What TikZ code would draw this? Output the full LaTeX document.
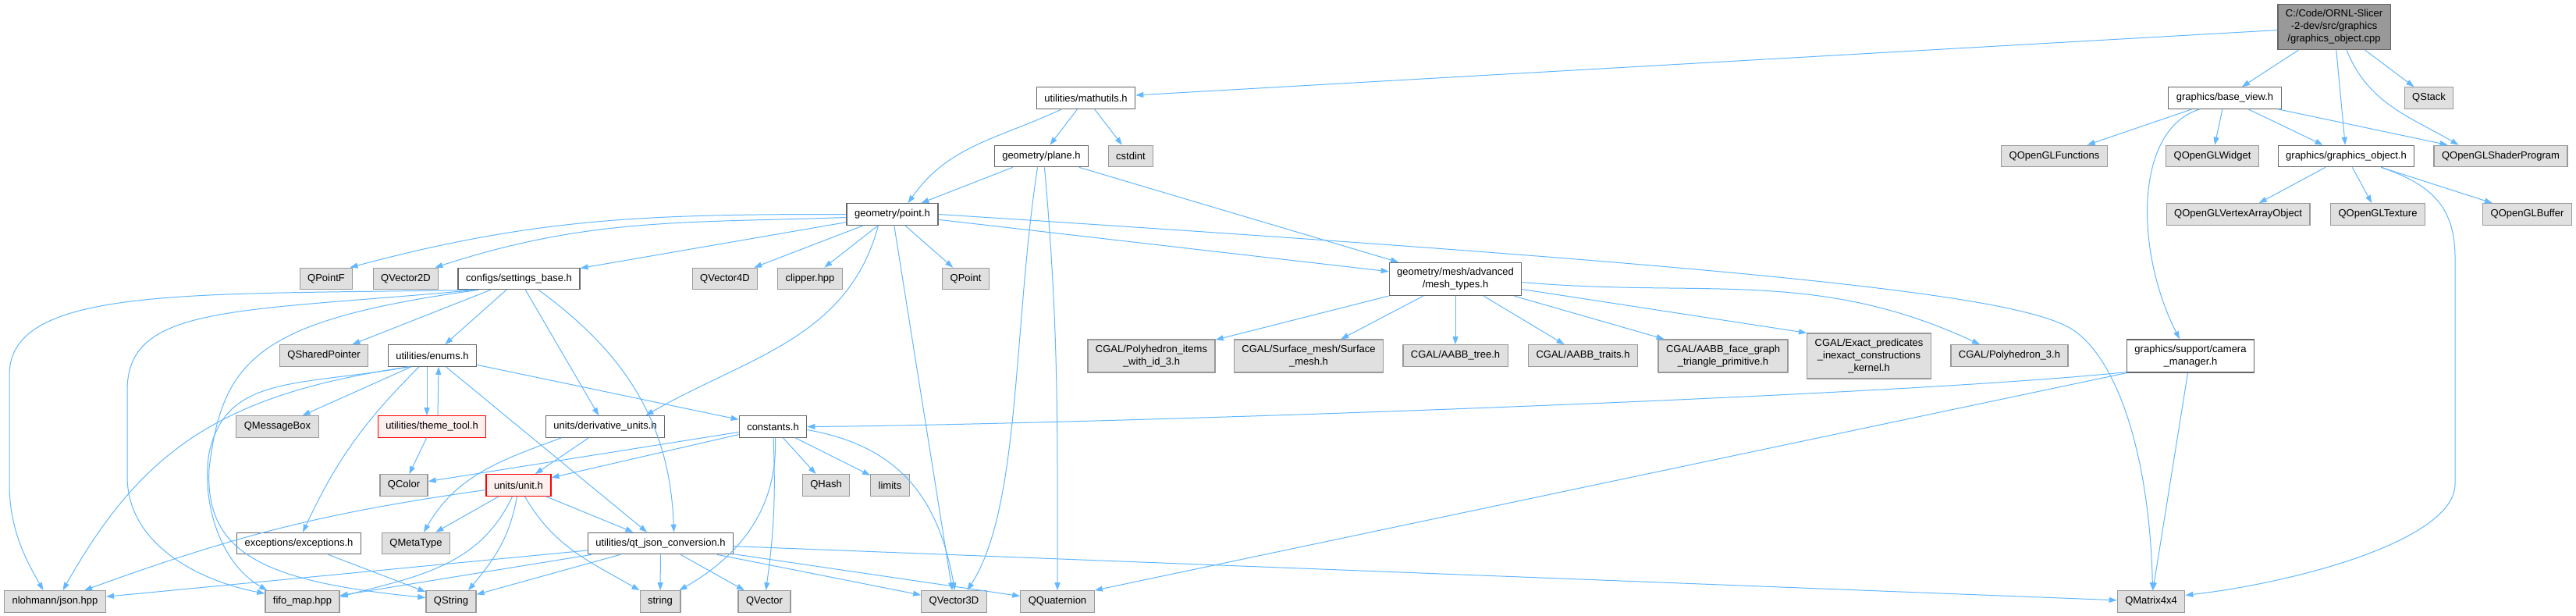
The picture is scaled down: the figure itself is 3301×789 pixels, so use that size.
\documentclass[tikz,border=0pt]{standalone}
\usepackage{fontspec}
\setmainfont{Liberation Sans}
\usetikzlibrary{arrows.meta}
\definecolor{edgeblue}{HTML}{63B8FF}
\definecolor{extfill}{HTML}{E0E0E0}
\definecolor{extstr}{HTML}{999999}
\definecolor{hdrstr}{HTML}{666666}
\definecolor{redstr}{HTML}{FF0000}
\definecolor{redfill}{HTML}{FFF0F0}
\definecolor{mainfill}{HTML}{999999}
\tikzset{
  hbox/.style   ={rectangle, draw=hdrstr, fill=white, line width=1.2pt,
                  inner xsep=10pt, inner ysep=7pt, minimum height=27.5pt,
                  align=center, font=\fontsize{13}{16}\selectfont},
  extbox/.style ={hbox, draw=extstr, fill=extfill},
  redbox/.style ={hbox, draw=redstr, fill=redfill},
  mainbox/.style={hbox, fill=mainfill},
  dep/.style    ={-{Triangle[length=10pt,width=7pt]}, draw=edgeblue, line width=1pt},
}
\begin{document}
\begin{tikzpicture}[x=1pt, y=1pt]
    \fill[white] (0,0) rectangle (3301,-789);
    \useasboundingbox (0,0) rectangle (3301,-789);

    \node[mainbox] (main) at (2991,-34.5) {C:/Code/ORNL-Slicer\\-2-dev/src/graphics\\/graphics\_object.cpp};
    \node[hbox] (mathutils) at (1391.5,-125.5) {utilities/mathutils.h};
    \node[hbox] (baseview) at (2851,-125.5) {graphics/base\_view.h};
    \node[extbox] (qstack) at (3112.5,-125.5) {QStack};
    \node[hbox] (plane) at (1334.5,-200) {geometry/plane.h};
    \node[extbox] (cstdint) at (1449,-200) {cstdint};
    \node[extbox] (glfunc) at (2632.5,-200) {QOpenGLFunctions};
    \node[extbox] (glwidget) at (2835,-200) {QOpenGLWidget};
    \node[hbox] (gobj) at (3006.5,-200) {graphics/graphics\_object.h};
    \node[extbox] (shader) at (3204.5,-200) {QOpenGLShaderProgram};
    \node[hbox] (point) at (1143.5,-274.5) {geometry/point.h};
    \node[extbox] (vao) at (2868,-274.5) {QOpenGLVertexArrayObject};
    \node[extbox] (gltex) at (3047,-274.5) {QOpenGLTexture};
    \node[extbox] (glbuf) at (3238.5,-274.5) {QOpenGLBuffer};
    \node[extbox] (qpointf) at (418,-357) {QPointF};
    \node[extbox] (qvec2d) at (520,-357) {QVector2D};
    \node[hbox] (settings) at (665,-357) {configs/settings\_base.h};
    \node[extbox] (qvec4d) at (929,-357) {QVector4D};
    \node[extbox] (clipper) at (1038,-357) {clipper.hpp};
    \node[extbox] (qpoint) at (1237.5,-357) {QPoint};
    \node[hbox] (meshtypes) at (1865,-357.5) {geometry/mesh/advanced\\/mesh\_types.h};
    \node[extbox] (polyitems) at (1475.5,-456) {CGAL/Polyhedron\_items\\\_with\_id\_3.h};
    \node[extbox] (surfmesh) at (1677,-456) {CGAL/Surface\_mesh/Surface\\\_mesh.h};
    \node[extbox] (aabbtree) at (1865,-455.5) {CGAL/AABB\_tree.h};
    \node[extbox] (aabbtraits) at (2028.5,-455.5) {CGAL/AABB\_traits.h};
    \node[extbox] (aabbface) at (2208,-456) {CGAL/AABB\_face\_graph\\\_triangle\_primitive.h};
    \node[extbox] (epick) at (2395,-456) {CGAL/Exact\_predicates\\\_inexact\_constructions\\\_kernel.h};
    \node[extbox] (poly3) at (2575,-455.5) {CGAL/Polyhedron\_3.h};
    \node[hbox] (camera) at (2807,-456) {graphics/support/camera\\\_manager.h};
    \node[extbox] (qshared) at (415,-455.5) {QSharedPointer};
    \node[hbox] (enums) at (554,-455.5) {utilities/enums.h};
    \node[extbox] (qmsgbox) at (355.5,-546.5) {QMessageBox};
    \node[redbox] (theme) at (553.5,-546.5) {utilities/theme\_tool.h};
    \node[hbox] (derived) at (775.5,-546.5) {units/derivative\_units.h};
    \node[hbox] (constants) at (990.5,-546.5) {constants.h};
    \node[extbox] (qcolor) at (517.5,-621.5) {QColor};
    \node[redbox] (unit) at (664.5,-621.5) {units/unit.h};
    \node[extbox] (qhash) at (1058.5,-621.5) {QHash};
    \node[extbox] (limits) at (1140.5,-621.5) {limits};
    \node[hbox] (exceptions) at (383,-696) {exceptions/exceptions.h};
    \node[extbox] (qmetatype) at (533,-696) {QMetaType};
    \node[hbox] (qtjson) at (846.5,-696) {utilities/qt\_json\_conversion.h};
    \node[extbox] (nlohmann) at (70.5,-770.5) {nlohmann/json.hpp};
    \node[extbox] (fifomap) at (387.5,-770.5) {fifo\_map.hpp};
    \node[extbox] (qstring) at (578,-770.5) {QString};
    \node[extbox] (string) at (846,-770.5) {string};
    \node[extbox] (qvector) at (979.5,-770.5) {QVector};
    \node[extbox] (qvec3d) at (1222.5,-770.5) {QVector3D};
    \node[extbox] (qquat) at (1355,-770.5) {QQuaternion};
    \node[extbox] (qmat4) at (2756.5,-770.5) {QMatrix4x4};

    \draw[dep] (main) -- (mathutils);
    \draw[dep] (main) -- (baseview);
    \draw[dep] (main) -- (gobj);
    \draw[dep] ([xshift=16pt]main.south) to[out=-68,in=150] ([xshift=-54pt]shader.north);
    \draw[dep] (main) -- (qstack);

    \draw[dep] ([xshift=-31pt]mathutils.south) to[out=205,in=55] ([xshift=20pt]point.north);
    \draw[dep] (mathutils) -- (plane);
    \draw[dep] (mathutils) -- (cstdint);

    \draw[dep] (plane) -- (point);
    \draw[dep] (plane) -- (meshtypes);
    \draw[dep] ([xshift=-5pt]plane.south) .. controls (1298,-420) and (1308,-650) .. ([xshift=17pt]qvec3d.north);
    \draw[dep] ([xshift=4pt]plane.south) to[out=-85,in=90] (qquat.north);

    \draw[dep] (point.west) to[out=180,in=15] ([xshift=-4pt]qpointf.north east);
    \draw[dep] ([yshift=-4pt]point.west) to[out=182,in=18] ([xshift=-5pt]qvec2d.north east);
    \draw[dep] (point) -- (settings);
    \draw[dep] (point) -- (qvec4d);
    \draw[dep] (point) -- (clipper);
    \draw[dep] (point) -- (qpoint);
    \draw[dep] (point) -- (meshtypes);
    \draw[dep] (point.east) .. controls (2300,-345) and (2600,-380) .. (2660,-425)
        .. controls (2720,-470) and (2755,-600) .. ([xshift=2pt]qmat4.north);
    \draw[dep] ([xshift=-18pt]point.south) to[out=-105,in=30] ([xshift=52pt]derived.north);
    \draw[dep] (point) -- (qvec3d);

    \draw[dep] ([xshift=-58pt]settings.south) .. controls (250,-378) and (12,-365) .. (12,-480)
        -- (12,-620) .. controls (12,-680) and (35,-720) .. ([xshift=-15pt]nlohmann.north);
    \draw[dep] ([xshift=-55pt]settings.south) .. controls (300,-400) and (163,-390) .. (163,-500)
        -- (163,-610) .. controls (163,-700) and (260,-745) .. ([yshift=-4pt]fifomap.north west);
    \draw[dep] ([xshift=-52pt]settings.south) .. controls (330,-410) and (285,-460) .. (268,-600)
        .. controls (262,-710) and (340,-745) .. ([yshift=5pt]qstring.west);
    \draw[dep] (settings) -- (qshared);
    \draw[dep] (settings) -- (enums);
    \draw[dep] (settings) -- (derived);
    \draw[dep] ([xshift=25pt]settings.south) to[out=-36,in=92] ([xshift=17pt]qtjson.north);

    \draw[dep] ([xshift=-27pt]enums.south) -- (qmsgbox);
    \draw[dep] ([xshift=-30pt]enums.south) .. controls (280,-505) and (180,-580) .. ([xshift=10pt]nlohmann.north);
    \draw[dep] ([xshift=-29pt]enums.south) .. controls (380,-495) and (290,-480) .. (268,-580)
        .. controls (258,-640) and (280,-720) .. ([xshift=3pt]fifomap.north west);
    \draw[dep] ([xshift=-7pt]enums.south) -- ([xshift=-6.5pt]theme.north);
    \draw[dep] ([xshift=7.5pt]theme.north) -- ([xshift=8pt]enums.south);
    \draw[dep] ([xshift=-17pt]enums.south) to[bend right=10] ([xshift=5pt]exceptions.north);
    \draw[dep] (enums) -- (constants);
    \draw[dep] (enums) -- (qtjson);

    \draw[dep] (theme) -- (qcolor);

    \draw[dep] (derived) -- (unit);
    \draw[dep] ([xshift=-56pt]derived.south) to[out=200,in=60] ([xshift=10pt]qmetatype.north);

    \draw[dep] (constants) -- (qcolor);
    \draw[dep] (constants) -- (unit);
    \draw[dep] (constants) -- (qhash);
    \draw[dep] (constants) -- (limits);
    \draw[dep] (constants) to[bend left=5] (qvector);
    \draw[dep] ([xshift=3pt]constants.south) to[out=-88,in=30] ([xshift=-2pt]string.north east);
    \draw[dep] ([yshift=-4pt]constants.east) to[out=-10,in=100,looseness=1.1] ([xshift=1pt]qvec3d.north);

    \draw[dep] ([yshift=1pt]camera.south west) .. controls (2396,-510) and (1366,-544) .. (constants.east);
    \draw[dep] (camera.south west) -- (qquat.north east);
    \draw[dep] (camera) -- (qmat4);

    \draw[dep] (baseview) -- (glfunc);
    \draw[dep] (baseview) -- (glwidget);
    \draw[dep] (baseview) -- (gobj);
    \draw[dep] (baseview) -- (shader);
    \draw[dep] ([xshift=-32pt]baseview.south) .. controls (2735,-165) and (2735,-320) .. ([xshift=-14pt]camera.north);

    \draw[dep] (gobj) -- (vao);
    \draw[dep] (gobj) -- (gltex);
    \draw[dep] (gobj) -- (glbuf);
    \draw[dep] ([xshift=45pt]gobj.south) .. controls (3110,-235) and (3146,-260) .. (3146,-330)
        -- (3146,-620) .. controls (3146,-690) and (2950,-745) .. ([yshift=8pt]qmat4.east);

    \draw[dep] (meshtypes) -- (polyitems);
    \draw[dep] (meshtypes) -- (surfmesh);
    \draw[dep] (meshtypes) -- (aabbtree);
    \draw[dep] (meshtypes) -- (aabbtraits);
    \draw[dep] (meshtypes) -- (aabbface);
    \draw[dep] (meshtypes) -- (epick.north west);
    \draw[dep] ([yshift=-4pt]meshtypes.east) to[out=-5,in=155] ([xshift=-38pt]poly3.north);

    \draw[dep] ([yshift=-6pt]unit.west) to[out=188,in=20] ([xshift=-28pt]nlohmann.north east);
    \draw[dep] (unit) -- (qmetatype);
    \draw[dep] ([xshift=-8pt]unit.south) to[out=-115,in=15] ([yshift=6pt]fifomap.east);
    \draw[dep] ([xshift=-2pt]unit.south) to[out=-100,in=50] ([xshift=22pt]qstring.north);
    \draw[dep] ([xshift=8pt]unit.south) to[out=-60,in=150] (string.north west);
    \draw[dep] (unit) -- (qtjson);

    \draw[dep] (exceptions) -- (qstring);

    \draw[dep] (qtjson) -- (nlohmann);
    \draw[dep] (qtjson) -- (fifomap);
    \draw[dep] (qtjson) -- (qstring);
    \draw[dep] (qtjson) -- (string);
    \draw[dep] (qtjson) -- (qvector);
    \draw[dep] (qtjson) -- (qvec3d);
    \draw[dep] (qtjson) -- (qquat);
    \draw[dep] (qtjson) -- (qmat4);
  \end{tikzpicture}
\end{document}
